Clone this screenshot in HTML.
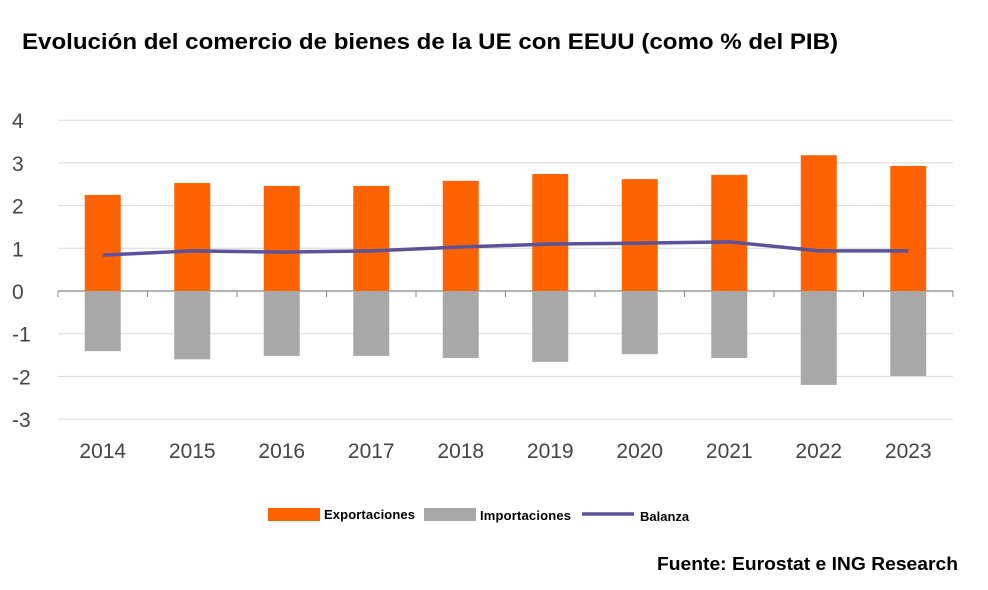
<!DOCTYPE html>
<html><head><meta charset="utf-8"><style>
body{margin:0;background:#fff;width:988px;height:585px;overflow:hidden;font-family:"Liberation Sans",sans-serif}
svg text{font-family:"Liberation Sans",sans-serif}
</style></head><body>
<svg id="c" width="988" height="585">
<text x="22" y="49" font-size="22" font-weight="bold" fill="#000" textLength="816" lengthAdjust="spacingAndGlyphs">Evolución del comercio de bienes de la UE con EEUU (como % del PIB)</text>
<text x="657" y="570" font-size="18" font-weight="bold" fill="#000" textLength="301" lengthAdjust="spacingAndGlyphs">Fuente: Eurostat e ING Research</text>
<g id="plot"></g>
<g>
<rect x="268" y="508" width="52" height="13" fill="#ff6200"/>
<text x="324" y="519" font-size="13" font-weight="bold" textLength="91">Exportaciones</text>
<rect x="424" y="508" width="52" height="13" fill="#a8a8a8"/>
<text x="480" y="520" font-size="13" font-weight="bold" textLength="91">Importaciones</text>
<line x1="582" y1="514" x2="634" y2="514" stroke="#5a5399" stroke-width="3.5"/>
<text x="640" y="521" font-size="13" font-weight="bold">Balanza</text>
</g>
</svg>
<script>
const years=["2014","2015","2016","2017","2018","2019","2020","2021","2022","2023"];
const exportsV=[2.25,2.53,2.46,2.46,2.58,2.74,2.62,2.72,3.18,2.93];
const importsV=[-1.41,-1.60,-1.52,-1.52,-1.57,-1.66,-1.48,-1.57,-2.20,-1.99];
const balanceV=[0.84,0.94,0.91,0.94,1.03,1.10,1.12,1.15,0.94,0.94];
const yTicks=[4,3,2,1,0,-1,-2,-3];
const NS="http://www.w3.org/2000/svg";
const g=document.getElementById('plot');
const x0=58,x1=953,step=(x1-x0)/years.length;
const y=v=>291-v*42.7;
const xc=i=>x0+step*(i+0.5);
function mk(t,a){const e=document.createElementNS(NS,t);for(const k in a)e.setAttribute(k,a[k]);g.appendChild(e);return e;}
yTicks.forEach(v=>{
 const l=mk('line',{x1:x0,x2:x1,y1:y(v),y2:y(v),stroke:v===0?'#888':'#d8d8d8','stroke-width':v===0?1.3:1});
 
 
 const t=mk('text',{x:12,y:y(v)+8,'font-size':21,fill:'#444'});t.textContent=String(v);
 
 
});
for(let i=0;i<=years.length;i++){
 const l=mk('line',{x1:x0+step*i,x2:x0+step*i,y1:y(0),y2:y(0)+6,stroke:'#888'});
 
 
}
years.forEach((yr,i)=>{
 const w=36;
 const b=mk('rect',{x:xc(i)-w/2,y:y(exportsV[i]),width:w,height:y(0)-y(exportsV[i]),fill:'#ff6200'});
 
 
 const m=mk('rect',{x:xc(i)-w/2,y:y(0),width:w,height:y(importsV[i])-y(0),fill:'#a8a8a8'});
 
 
 const t=mk('text',{x:xc(i),y:458,'font-size':21,fill:'#444','text-anchor':'middle'});t.textContent=yr;
 
 
});
let d='';balanceV.forEach((v,i)=>{d+=(i?'L':'M')+xc(i)+' '+y(v);});
const p=mk('path',{d:d,fill:'none',stroke:'#5a5399','stroke-width':3.5,'stroke-linejoin':'round'});


</script>
</body></html>
